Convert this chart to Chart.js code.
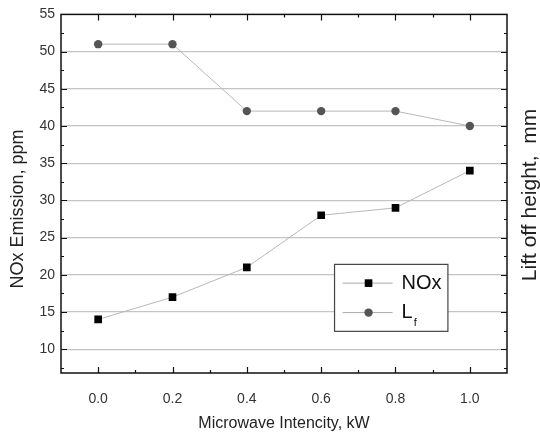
<!DOCTYPE html>
<html><head><meta charset="utf-8">
<script src="https://cdn.jsdelivr.net/npm/chart.js@4/dist/chart.umd.min.js"></script>
<style>html,body{margin:0;padding:0;background:#fff}#wrap{width:540px;height:436px}</style>
</head><body><div id="wrap"><canvas id="c" width="540" height="436"></canvas></div>
<script>
const microwave = [0.0, 0.2, 0.4, 0.6, 0.8, 1.0];
const noxValues = [14, 17, 21, 28, 29, 34];
const lfValues = [51, 51, 42, 42, 42, 40];
const yTicks = [10, 15, 20, 25, 30, 35, 40, 45, 50, 55];
const xTicks = [0.0, 0.2, 0.4, 0.6, 0.8, 1.0];
const xTitle = 'Microwave Intencity, kW';
const yTitle = 'NOx Emission, ppm';
const y2Title = 'Lift off height,  mm';
const FONT = "'Liberation Sans', Arial, sans-serif";

const frame = {
  id: 'frame',
  afterDraw(chart) {
    const {ctx, chartArea: a, scales} = chart;
    const x = scales.x, y = scales.y;
    ctx.save();
    ctx.strokeStyle = '#111';
    ctx.lineWidth = 1.5;
    ctx.strokeRect(a.left, a.top, a.right - a.left, a.bottom - a.top);
    ctx.lineWidth = 1.2;
    ctx.beginPath();
    for (let v = 7.5; v < 55; v += 2.5) {
      const py = Math.round(y.getPixelForValue(v)) + 0.5;
      const len = (v % 5 === 0) ? 6 : 3;
      ctx.moveTo(a.left, py); ctx.lineTo(a.left + len, py);
      ctx.moveTo(a.right, py); ctx.lineTo(a.right - len, py);
    }
    for (let i = 0; i <= 10; i++) {
      const v = i / 10;
      const px = Math.round(x.getPixelForValue(v)) + 0.5;
      const len = (i % 2 === 0) ? 6 : 3;
      ctx.moveTo(px, a.bottom); ctx.lineTo(px, a.bottom - len);
      ctx.moveTo(px, a.top); ctx.lineTo(px, a.top + len);
    }
    ctx.stroke();
    // axis titles
    ctx.fillStyle = '#222';
    ctx.textAlign = 'center';
    ctx.textBaseline = 'middle';
    ctx.font = '16px ' + FONT;
    ctx.fillText(xTitle, (a.left + a.right) / 2, 424);
    ctx.save();
    ctx.translate(18, 209); ctx.rotate(-Math.PI / 2);
    ctx.font = '18px ' + FONT;
    ctx.fillText(yTitle, 0, 0);
    ctx.restore();
    ctx.save();
    ctx.translate(530, 195); ctx.rotate(-Math.PI / 2);
    ctx.font = '21px ' + FONT;
    ctx.fillText(y2Title, 0, 0);
    ctx.restore();
    // legend
    const lx = x.getPixelForValue(0.636), rx = x.getPixelForValue(0.941);
    const ty = y.getPixelForValue(21.4), by = y.getPixelForValue(12.4);
    ctx.fillStyle = '#fff';
    ctx.fillRect(lx, ty, rx - lx, by - ty);
    ctx.strokeStyle = '#444';
    ctx.lineWidth = 1.2;
    ctx.strokeRect(lx, ty, rx - lx, by - ty);
    const rows = [
      {y: ty + (by - ty) * 0.28, label: 'NOx', sub: '', ds: 0},
      {y: ty + (by - ty) * 0.72, label: 'L', sub: 'f', ds: 1}
    ];
    rows.forEach(r => {
      const ds = chart.data.datasets[r.ds];
      ctx.strokeStyle = '#aaa'; ctx.lineWidth = 1;
      ctx.beginPath(); ctx.moveTo(lx + 8, r.y); ctx.lineTo(lx + 58, r.y); ctx.stroke();
      ctx.fillStyle = ds.backgroundColor;
      ctx.beginPath();
      if (ds.pointStyle === 'rect') { const s = ds.pointRadius * Math.SQRT1_2; ctx.rect(lx + 34 - s, r.y - s, 2 * s, 2 * s); }
      else ctx.arc(lx + 34, r.y, ds.pointRadius, 0, Math.PI * 2);
      ctx.fill();
      ctx.fillStyle = '#111';
      ctx.font = '20px ' + FONT;
      ctx.textBaseline = 'middle';
      ctx.textAlign = 'left';
      ctx.fillText(r.label, lx + 67, r.y);
      if (r.sub) {
        const w = ctx.measureText(r.label).width;
        ctx.font = '11px ' + FONT;
        ctx.fillText(r.sub, lx + 67 + w + 1, r.y + 10);
      }
    });
    ctx.restore();
  }
};

new Chart(document.getElementById('c'), {
  type: 'line',
  data: {
    datasets: [
      {label: 'NOx', data: microwave.map((m, i) => ({x: m, y: noxValues[i]})),
       borderColor: '#b8b8b8', borderWidth: 1, backgroundColor: '#000', pointBackgroundColor: '#000',
       pointBorderWidth: 0, pointStyle: 'rect', pointRadius: 5.4, yAxisID: 'y'},
      {label: 'Lf', data: microwave.map((m, i) => ({x: m, y: lfValues[i]})),
       borderColor: '#b8b8b8', borderWidth: 1, backgroundColor: '#555', pointBackgroundColor: '#555',
       pointBorderWidth: 0, pointStyle: 'circle', pointRadius: 4.2, yAxisID: 'y'}
    ]
  },
  options: {
    responsive: false, animation: false,
    layout: {padding: {top: 14, right: 0, left: 0, bottom: 0}},
    plugins: {legend: {display: false}, tooltip: {enabled: false}},
    scales: {
      x: {
        type: 'linear', min: -0.1, max: 1.1,
        afterBuildTicks: s => { s.ticks = xTicks.map(v => ({value: v})); },
        afterFit: s => { s.height = 63; },
        ticks: {callback: v => Number(v).toFixed(1), color: '#333', font: {family: FONT, size: 14}, padding: 18, maxRotation: 0},
        grid: {display: false, drawTicks: false},
        border: {display: false}
      },
      y: {
        type: 'linear', position: 'left', min: 6.8, max: 55,
        afterBuildTicks: s => { s.ticks = yTicks.map(v => ({value: v})); },
        afterFit: s => { s.width = 61; },
        ticks: {color: '#333', font: {family: FONT, size: 14}, padding: 6},
        grid: {color: ctx => (ctx.tick && ctx.tick.value === 55) ? 'rgba(0,0,0,0)' : '#c4c4c4', lineWidth: 1.3, drawTicks: false},
        border: {display: false}
      },
      y2: {
        type: 'linear', position: 'right', min: 6.8, max: 55,
        afterFit: s => { s.width = 33; },
        ticks: {display: false},
        grid: {display: false, drawTicks: false},
        border: {display: false}
      }
    }
  },
  plugins: [frame]
});
</script>
</body></html>
